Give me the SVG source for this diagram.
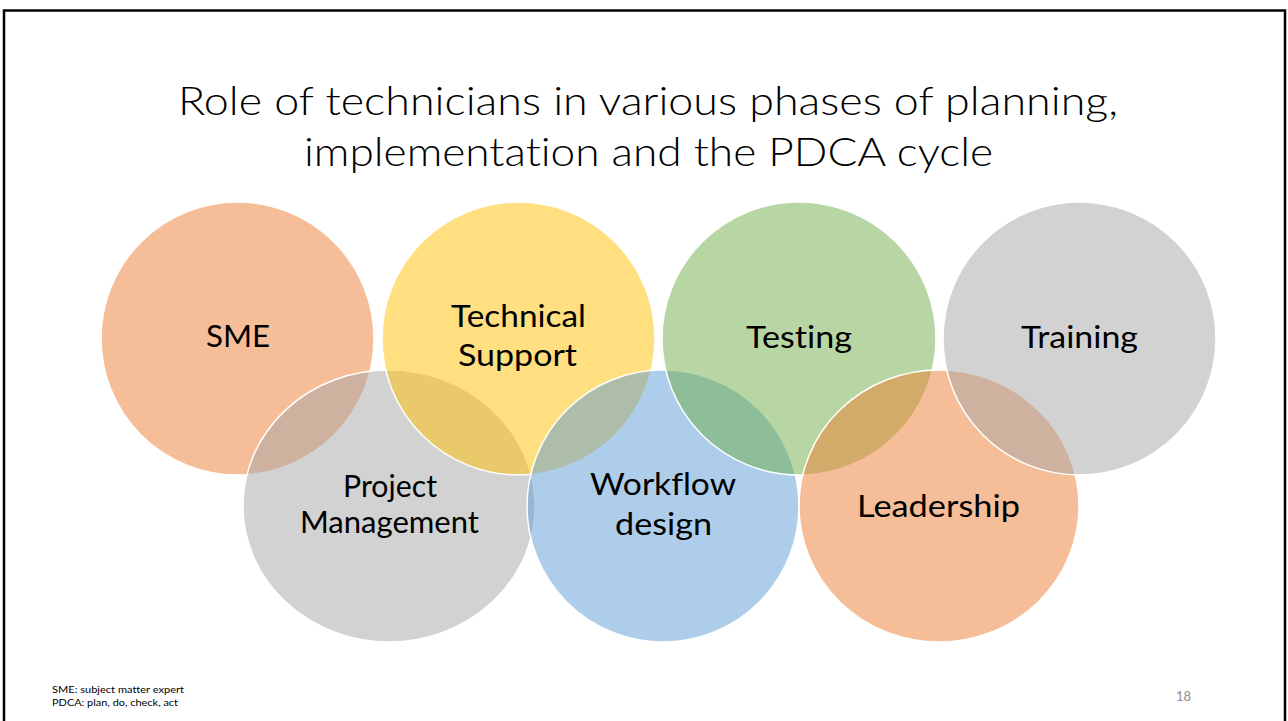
<svg xmlns="http://www.w3.org/2000/svg" width="1288" height="721" viewBox="0 0 1288 721">
<style>
text{font-variant-ligatures:none}
.c{stroke:#ffffff;stroke-width:1.5;fill-opacity:0.5}
.orange{fill:#ED7D31}
.yellow{fill:#FFC000}
.green{fill:#70AD47}
.gray{fill:#A5A5A5}
.blue{fill:#5B9BD5}
.lbl{font-family:Lato,"Liberation Sans",Arial,sans-serif;font-size:31px;fill:#000000;text-anchor:middle}
.title{font-family:Lato,"Liberation Sans",Arial,sans-serif;font-weight:300;font-size:40px;fill:#000000;text-anchor:middle}
.note{font-family:Lato,"Liberation Sans",Arial,sans-serif;font-size:9.5px;fill:#000000}
</style>
<rect x="0" y="0" width="1288" height="721" fill="#ffffff"/>
<path d="M4,721 V10.5 H1285 V721" fill="none" stroke="#000000" stroke-width="2.5"/>
<g id="title">
<text class="title" x="648" y="115" textLength="940" lengthAdjust="spacingAndGlyphs">Role of technicians in various phases of planning,</text>
<text class="title" x="648.5" y="166" textLength="689" lengthAdjust="spacingAndGlyphs">implementation and the PDCA cycle</text>
</g>
<g id="connectors"></g>
<g id="sme">
<ellipse class="c orange" cx="237.5" cy="338.5" rx="136.5" ry="136.5"/>
<text class="lbl" x="238" y="347" textLength="64" lengthAdjust="spacingAndGlyphs">SME</text>
</g>
<g id="project-management">
<ellipse class="c gray" cx="389" cy="506" rx="146" ry="136"/>
<text class="lbl" x="390" y="497" textLength="94" lengthAdjust="spacingAndGlyphs">Project</text>
<text class="lbl" x="389.5" y="533" textLength="179" lengthAdjust="spacingAndGlyphs">Management</text>
</g>
<g id="technical-support">
<ellipse class="c yellow" cx="518.5" cy="338.5" rx="136.5" ry="136.5"/>
<text class="lbl" x="518.5" y="327" textLength="135" lengthAdjust="spacingAndGlyphs">Technical</text>
<text class="lbl" x="517.5" y="366" textLength="119" lengthAdjust="spacingAndGlyphs">Support</text>
</g>
<g id="workflow-design">
<ellipse class="c blue" cx="663" cy="506" rx="136" ry="136"/>
<text class="lbl" x="663" y="495" textLength="146" lengthAdjust="spacingAndGlyphs">Workflow</text>
<text class="lbl" x="663.5" y="535" textLength="97" lengthAdjust="spacingAndGlyphs">design</text>
</g>
<g id="testing">
<ellipse class="c green" cx="799" cy="338.5" rx="137" ry="136.5"/>
<text class="lbl" x="799" y="348" textLength="106" lengthAdjust="spacingAndGlyphs">Testing</text>
</g>
<g id="leadership">
<ellipse class="c orange" cx="939" cy="506" rx="140" ry="136"/>
<text class="lbl" x="938.5" y="517" textLength="163" lengthAdjust="spacingAndGlyphs">Leadership</text>
</g>
<g id="training">
<ellipse class="c gray" cx="1079.5" cy="338.5" rx="136.5" ry="136.5"/>
<text class="lbl" x="1079.5" y="348" textLength="117" lengthAdjust="spacingAndGlyphs">Training</text>
</g>
<g id="footnotes">
<text class="note" x="52" y="693" textLength="132" lengthAdjust="spacingAndGlyphs">SME: subject matter expert</text>
<text class="note" x="52" y="706" textLength="126" lengthAdjust="spacingAndGlyphs">PDCA: plan, do, check, act</text>
<text x="1191" y="701" font-family="Lato, Liberation Sans, Arial, sans-serif" font-size="13" fill="#8a8a8a" text-anchor="end">18</text>
</g>
</svg>
